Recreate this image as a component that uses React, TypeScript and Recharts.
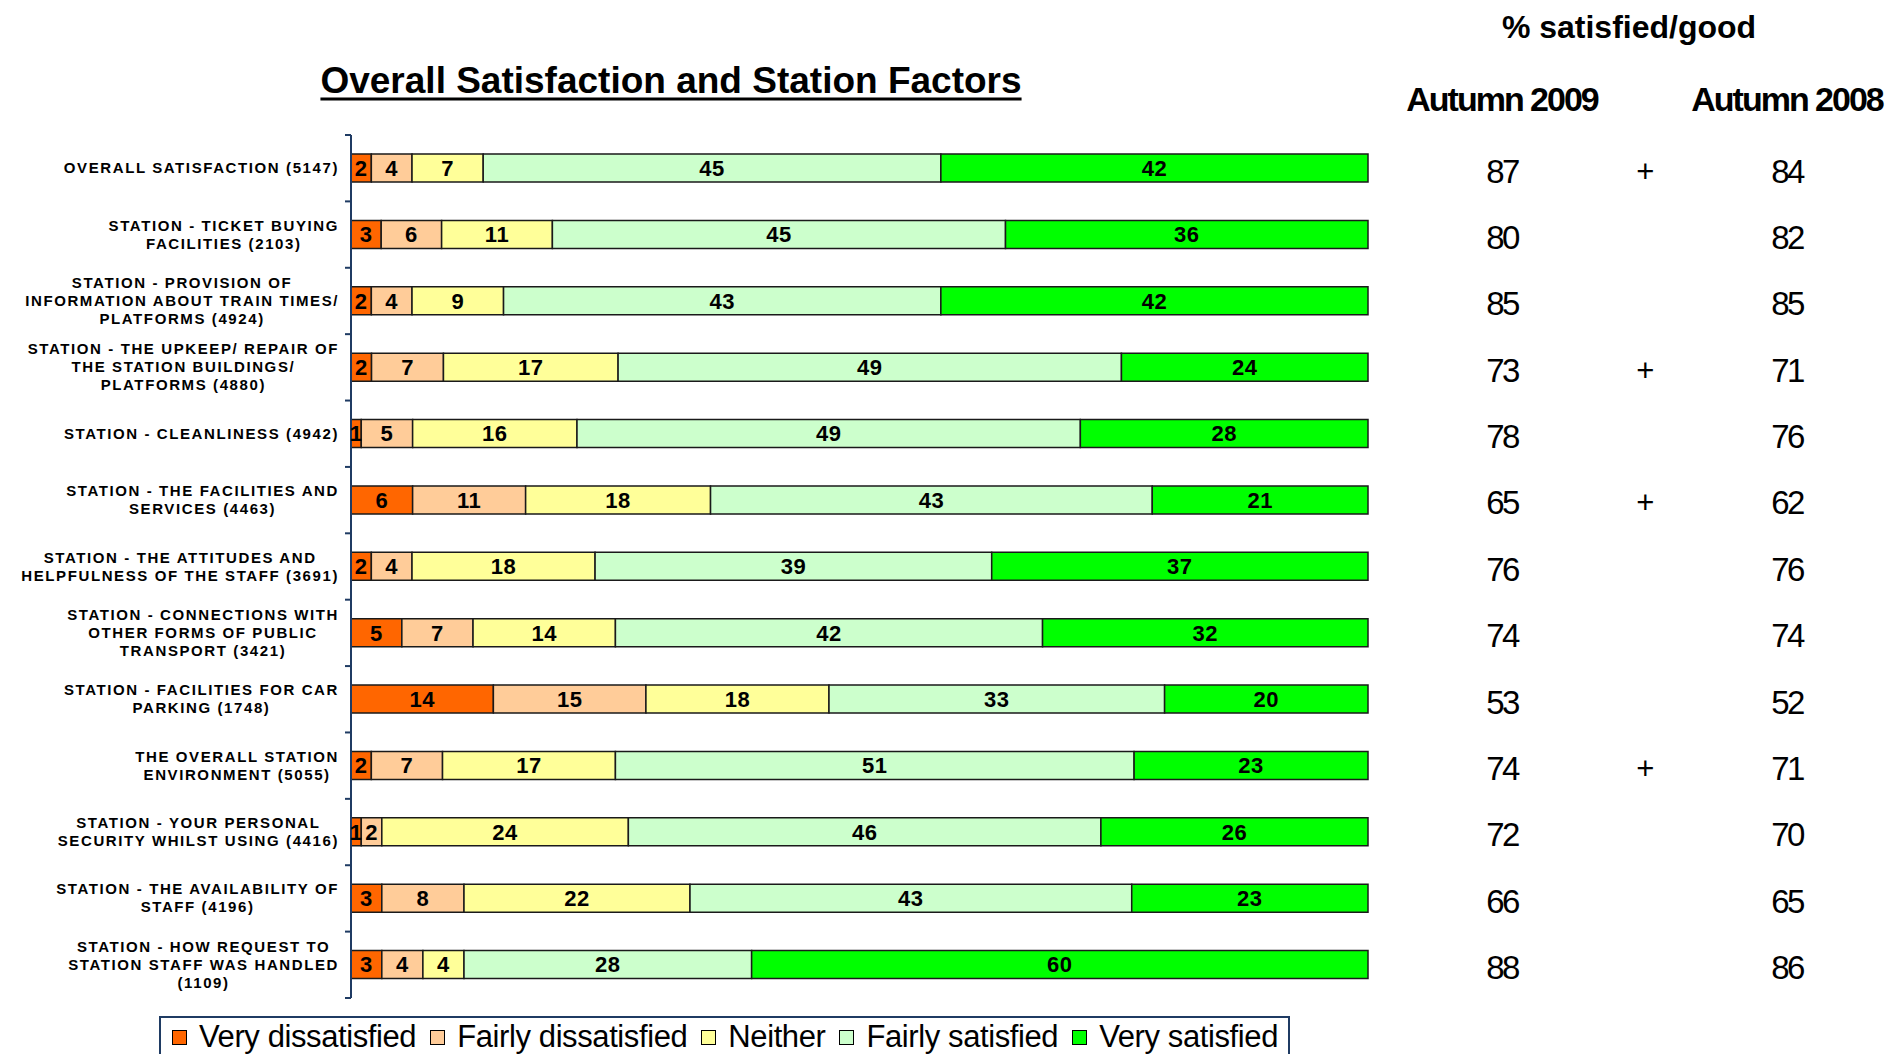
import { BarChart, Bar, XAxis, YAxis, LabelList } from 'recharts'

const FONT = "'Liberation Sans', Arial, sans-serif"

const categories = [
  'OVERALL SATISFACTION (5147)',
  'STATION - TICKET BUYING\nFACILITIES (2103)',
  'STATION - PROVISION OF\nINFORMATION ABOUT TRAIN TIMES/\nPLATFORMS (4924)',
  'STATION - THE UPKEEP/ REPAIR OF\nTHE STATION BUILDINGS/\nPLATFORMS (4880)',
  'STATION - CLEANLINESS (4942)',
  'STATION - THE FACILITIES AND\nSERVICES (4463)',
  'STATION - THE ATTITUDES AND\nHELPFULNESS OF THE STAFF (3691)',
  'STATION - CONNECTIONS WITH\nOTHER FORMS OF PUBLIC\nTRANSPORT (3421)',
  'STATION - FACILITIES FOR CAR\nPARKING (1748)',
  'THE OVERALL STATION\nENVIRONMENT (5055)',
  'STATION - YOUR PERSONAL\nSECURITY WHILST USING (4416)',
  'STATION - THE AVAILABILITY OF\nSTAFF (4196)',
  'STATION - HOW REQUEST TO\nSTATION STAFF WAS HANDLED\n(1109)',
]

const veryDissatisfied = [2, 3, 2, 2, 1, 6, 2, 5, 14, 2, 1, 3, 3]
const fairlyDissatisfied = [4, 6, 4, 7, 5, 11, 4, 7, 15, 7, 2, 8, 4]
const neither = [7, 11, 9, 17, 16, 18, 18, 14, 18, 17, 24, 22, 4]
const fairlySatisfied = [45, 45, 43, 49, 49, 43, 39, 42, 33, 51, 46, 43, 28]
const verySatisfied = [42, 36, 42, 24, 28, 21, 37, 32, 20, 23, 26, 23, 60]

const autumn2009 = [87, 80, 85, 73, 78, 65, 76, 74, 53, 74, 72, 66, 88]
const autumn2008 = [84, 82, 85, 71, 76, 62, 76, 74, 52, 71, 70, 65, 86]
const change = ['+', '', '', '+', '', '+', '', '', '', '+', '', '', '']

const series = [
  { key: 'vd', name: 'Very dissatisfied', color: '#FF6600' },
  { key: 'fd', name: 'Fairly dissatisfied', color: '#FFCC99' },
  { key: 'ne', name: 'Neither', color: '#FFFF99' },
  { key: 'fs', name: 'Fairly satisfied', color: '#CCFFCC' },
  { key: 'vs', name: 'Very satisfied', color: '#00FF00' },
]

const data = categories.map((name, i) => ({
  name,
  vd: veryDissatisfied[i],
  fd: fairlyDissatisfied[i],
  ne: neither[i],
  fs: fairlySatisfied[i],
  vs: verySatisfied[i],
  a2009: autumn2009[i],
  a2008: autumn2008[i],
  chg: change[i],
}))

const PLOT_TOP = 135
const PLOT_BOTTOM = 998
const AXIS_X = 351
const BAND = (PLOT_BOTTOM - PLOT_TOP) / categories.length

function CategoryTick(props: any) {
  const { y, payload, index } = props
  const lines = String(payload.value).split('\n')
  const top = y - BAND / 2
  return (
    <g>
      <line x1={AXIS_X - 6} x2={AXIS_X} y1={top} y2={top} stroke="#1F3B63" strokeWidth={2} />
      {index === categories.length - 1 && (
        <line x1={AXIS_X - 6} x2={AXIS_X} y1={top + BAND} y2={top + BAND} stroke="#1F3B63" strokeWidth={2} />
      )}
      <foreignObject x={0} y={y - 40} width={339} height={80}>
        <div
          style={{
            display: 'flex',
            height: '100%',
            alignItems: 'center',
            justifyContent: 'flex-end',
          }}
        >
          <div
            style={{
              textAlign: 'center',
              fontFamily: FONT,
              fontWeight: 'bold',
              fontSize: 15,
              letterSpacing: 1.6,
              lineHeight: '18px',
              color: '#000',
              whiteSpace: 'nowrap',
            }}
          >
            {lines.map((l, i) => (
              <div key={i}>{l}</div>
            ))}
          </div>
        </div>
      </foreignObject>
    </g>
  )
}

// right-hand columns, placed on each row's bar
function sideText(x: number, size = 33) {
  return (props: any) => {
    const vb = props.viewBox || props
    const cy = vb.y + vb.height / 2
    if (props.value === '' || props.value == null) return null
    return (
      <text
        x={x}
        y={cy + 3}
        textAnchor="middle"
        dominantBaseline="central"
        fontFamily={FONT}
        fontSize={size}
        letterSpacing={-2.5}
        fill="#000"
      >
        {props.value}
      </text>
    )
  }
}

const headerStyle = (left: number, top: number, size: number): any => ({
  position: 'absolute',
  left,
  top,
  transform: 'translate(-50%, -50%)',
  fontFamily: FONT,
  fontWeight: 'bold',
  fontSize: size,
  lineHeight: 1,
  whiteSpace: 'nowrap',
  color: '#000',
})

export default function App() {
  return (
    <div style={{ position: 'absolute', left: 0, top: 0, width: 1886, height: 1054, background: '#fff', overflow: 'hidden' }}>
      <div style={{ ...headerStyle(671, 80, 37), textDecoration: 'underline', textDecorationThickness: 3, textUnderlineOffset: 5 }}>
        Overall Satisfaction and Station Factors
      </div>
      <div style={headerStyle(1629, 27, 32)}>% satisfied/good</div>
      <div style={{ ...headerStyle(1502, 99, 34), letterSpacing: -2 }}>Autumn 2009</div>
      <div style={{ ...headerStyle(1787, 99, 34), letterSpacing: -2 }}>Autumn 2008</div>

      <BarChart
        width={1886}
        height={1054}
        data={data}
        layout="vertical"
        stackOffset="expand"
        margin={{ top: PLOT_TOP, right: 1886 - 1368, bottom: 1054 - PLOT_BOTTOM, left: 0 }}
        barSize={28}
      >
        <XAxis type="number" hide domain={[0, 1]} />
        <YAxis
          type="category"
          dataKey="name"
          width={AXIS_X}
          axisLine={{ stroke: '#1F3B63', strokeWidth: 2 }}
          tickLine={false}
          tick={<CategoryTick />}
          interval={0}
        />
        {series.map((s) => (
          <Bar
            key={s.key}
            dataKey={s.key}
            name={s.name}
            stackId="a"
            fill={s.color}
            stroke="#1a1a1a"
            strokeWidth={1.5}
            isAnimationActive={false}
          >
            <LabelList
              dataKey={s.key}
              position="center"
              fill="#000"
              fontFamily={FONT}
              fontWeight="bold"
              fontSize={22}
              letterSpacing={0.5}
            />
            {s.key === 'vs' && <LabelList dataKey="a2009" content={sideText(1502)} />}
            {s.key === 'vs' && <LabelList dataKey="chg" content={sideText(1644, 31)} />}
            {s.key === 'vs' && <LabelList dataKey="a2008" content={sideText(1787)} />}
          </Bar>
        ))}
      </BarChart>

      <div
        style={{
          position: 'absolute',
          left: 159,
          top: 1016,
          width: 1131,
          height: 60,
          border: '2px solid #1F3B63',
          display: 'flex',
          alignItems: 'flex-start',
          paddingLeft: 11,
          paddingTop: 1,
          boxSizing: 'border-box',
          fontFamily: FONT,
          fontSize: 31,
          letterSpacing: -0.4,
          whiteSpace: 'nowrap',
        }}
      >
        {series.map((s) => (
          <div key={s.key} style={{ display: 'flex', alignItems: 'center', marginRight: 14 }}>
            <span
              style={{
                display: 'inline-block',
                width: 13,
                height: 13,
                background: s.color,
                border: '1px solid #000',
                marginRight: 12,
              }}
            />
            <span>{s.name}</span>
          </div>
        ))}
      </div>
    </div>
  )
}
